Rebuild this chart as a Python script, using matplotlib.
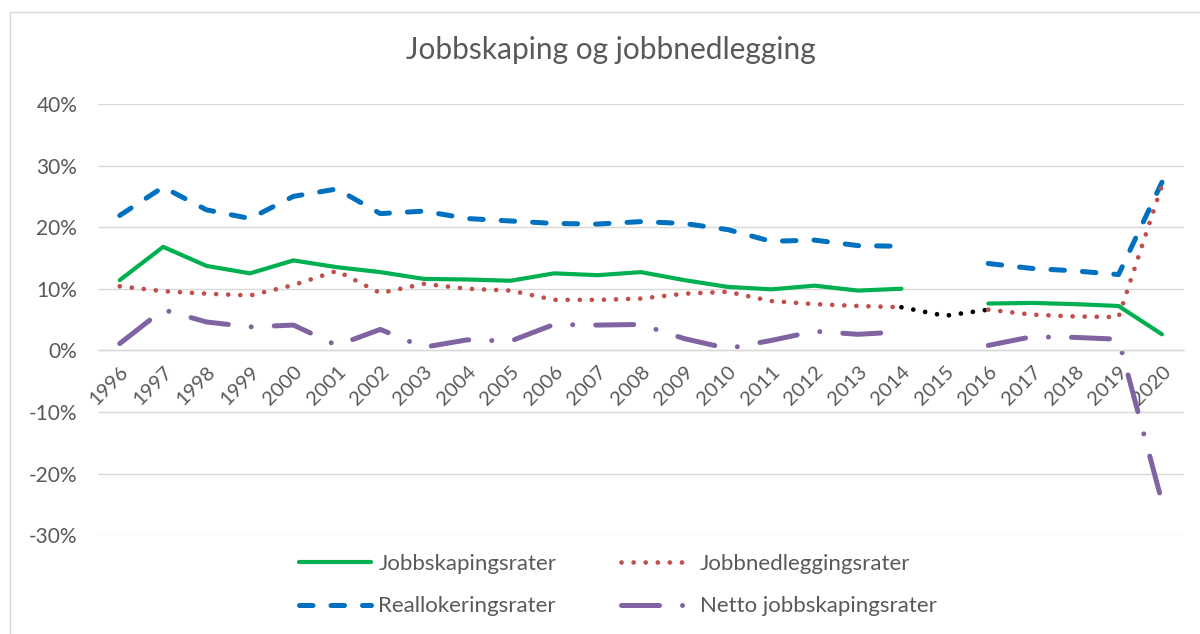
import numpy as np
import matplotlib.pyplot as plt
from matplotlib.lines import Line2D
from matplotlib.ticker import FuncFormatter

plt.rcParams['font.family'] = ['Lato', 'DejaVu Sans']

years = [str(y) for y in range(1996, 2021)]
nan = np.nan

jobbskaping = [11.4, 16.8, 13.7, 12.5, 14.6, 13.5, 12.7, 11.6, 11.5, 11.3,
               12.5, 12.2, 12.7, 11.4, 10.3, 9.9, 10.5, 9.7, 10.0, nan,
               7.6, 7.7, 7.5, 7.2, 2.6]
jobbnedlegging = [10.4, 9.6, 9.2, 8.9, 10.6, 12.9, 9.3, 10.8, 10.0, 9.7,
                  8.2, 8.2, 8.4, 9.2, 9.5, 8.0, 7.5, 7.2, 7.0, 5.6,
                  6.6, 5.8, 5.5, 5.4, 26.8]
reallokering = [21.9, 26.5, 22.8, 21.4, 25.0, 26.2, 22.2, 22.6, 21.4, 21.0,
                20.6, 20.5, 20.9, 20.6, 19.6, 17.7, 17.9, 17.0, 16.9, nan,
                14.1, 13.3, 12.9, 12.3, 27.3]
netto = [1.1, 6.6, 4.6, 3.8, 4.1, 0.8, 3.4, 0.5, 1.7, 1.5,
         4.2, 4.1, 4.2, 1.9, 0.3, 1.6, 3.1, 2.6, 3.0, nan,
         0.8, 2.2, 2.1, 1.8, -24.6]

green = '#00B050'
red = '#C0504D'
blue = '#0070C0'
purple = '#8064A2'
grey = '#595959'

fig = plt.figure(figsize=(12, 6.34), dpi=100)
ax = fig.add_axes([0.0817, 0.156, 0.9047, 0.680])

x = np.arange(len(years))
jn = np.array(jobbnedlegging)

l_green, = ax.plot(x, jobbskaping, color=green, lw=3.0,
                   solid_capstyle='round', solid_joinstyle='round',
                   label='Jobbskapingsrater')
l_blue, = ax.plot(x, reallokering, color=blue, lw=3.6, dashes=(2.7, 3.6),
                  dash_capstyle='round', label='Reallokeringsrater')
l_red, = ax.plot(x[:19], jn[:19], color=red, lw=3.4, dashes=(0.01, 2.55),
                 dash_capstyle='round', label='Jobbnedleggingsrater')
ax.plot(x[18:21], jn[18:21], color='black', lw=3.4, dashes=(0.01, 2.55),
        dash_capstyle='round')
ax.plot(x[20:], jn[20:], color=red, lw=3.4, dashes=(0.01, 2.55),
        dash_capstyle='round')
l_purple, = ax.plot(x, netto, color=purple, lw=3.6,
                    dashes=(7.6, 4.6, 0.01, 4.6), dash_capstyle='round',
                    label='Netto jobbskapingsrater')

ax.set_xlim(-0.5, len(years) - 0.5)
ax.set_ylim(-30, 40)
ax.set_yticks(np.arange(-30, 41, 10))
ax.yaxis.set_major_formatter(FuncFormatter(lambda v, p: f'{v:.0f}%'))
ax.grid(axis='y', color='#d9d9d9', lw=1.0)
ax.set_axisbelow(True)
for s in ['top', 'right', 'left']:
    ax.spines[s].set_visible(False)
ax.spines['bottom'].set_position(('data', 0))
ax.spines['bottom'].set_color('#d9d9d9')
ax.spines['bottom'].set_linewidth(1.0)

ax.set_xticks(x)
ax.set_xticklabels(years, rotation=45, ha='right', va='top',
                   rotation_mode='anchor')
ax.tick_params(axis='x', length=0, pad=9, labelsize=14.5, labelcolor=grey)
ax.tick_params(axis='y', length=0, pad=15, labelsize=15, labelcolor=grey)

fig.text(0.509, 0.921, 'Jobbskaping og jobbnedlegging', ha='center',
         va='center', fontsize=21.5, color=grey)

fig.legend(handles=[l_green, l_blue, l_red, l_purple], ncol=2,
           loc='center', bbox_to_anchor=(0.515, 0.077), frameon=False,
           fontsize=16, labelcolor=grey, handlelength=3.2,
           handletextpad=0.35, columnspacing=2.9, labelspacing=1.0)

# chart area border (only top and left edges are inside the picture)
fig.add_artist(Line2D([9.5 / 1200, 1], [1 - 11.5 / 634] * 2,
                      transform=fig.transFigure, color='#d9d9d9', lw=1.0))
fig.add_artist(Line2D([9.5 / 1200] * 2, [0, 1 - 11.5 / 634],
                      transform=fig.transFigure, color='#d9d9d9', lw=1.0))

fig.savefig('out.png', dpi=100)
